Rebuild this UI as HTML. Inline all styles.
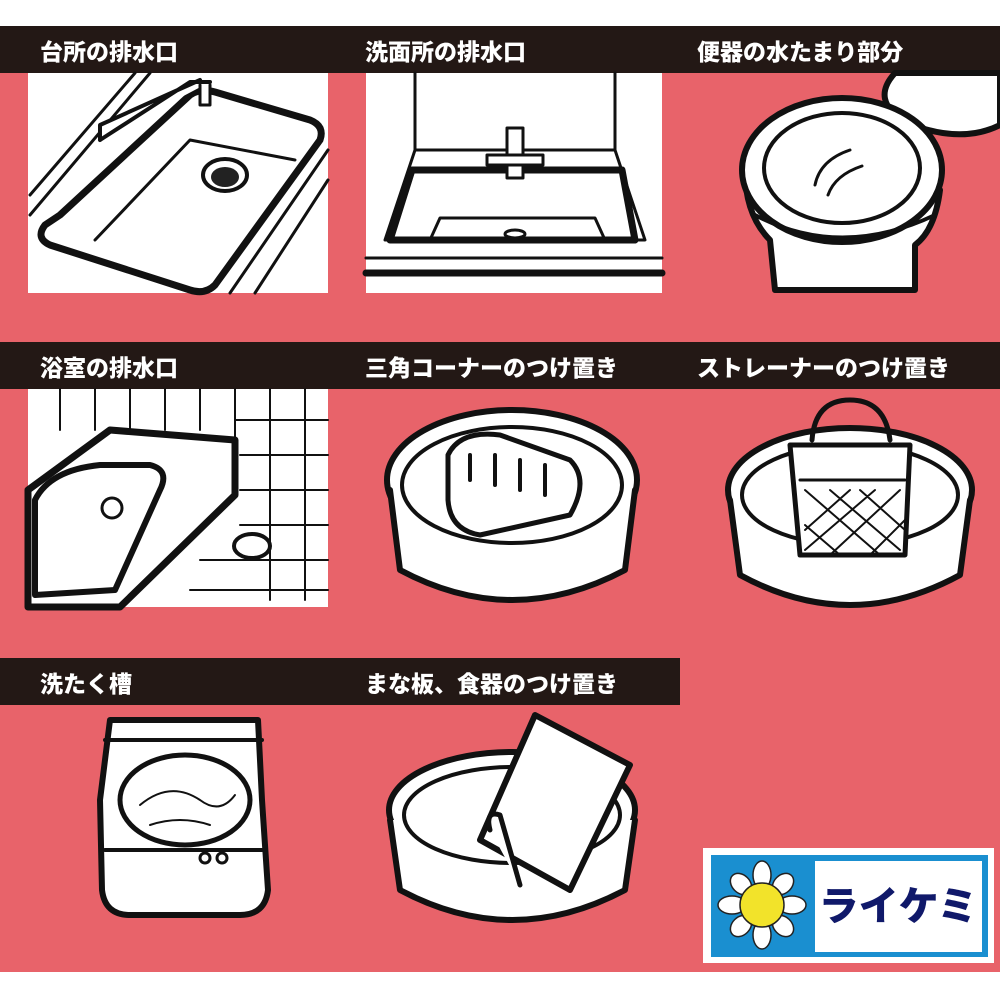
<!DOCTYPE html>
<html><head><meta charset="utf-8"><style>
html,body{margin:0;padding:0;width:1000px;height:1000px;background:#fff;overflow:hidden}
.t{font-family:"Liberation Sans","Noto Sans CJK JP",sans-serif;font-weight:900;fill:#fff;font-size:23px}
</style></head><body>
<svg width="1000" height="1000" viewBox="0 0 1000 1000" xmlns="http://www.w3.org/2000/svg">
<rect x="0" y="26" width="1000" height="946" fill="#e8636a"/>
<rect x="0" y="26" width="1000" height="47" fill="#231815"/>
<rect x="0" y="342" width="1000" height="47" fill="#231815"/>
<rect x="0" y="658" width="680" height="47" fill="#231815"/>
<text class="t" x="40" y="60">台所の排水口</text>
<text class="t" x="365" y="60">洗面所の排水口</text>
<text class="t" x="697" y="60">便器の水たまり部分</text>
<text class="t" x="40" y="376">浴室の排水口</text>
<text class="t" x="365" y="376">三角コーナーのつけ置き</text>
<text class="t" x="697" y="376">ストレーナーのつけ置き</text>
<text class="t" x="40" y="692">洗たく槽</text>
<text class="t" x="365" y="692">まな板、食器のつけ置き</text>

<g stroke="#111" fill="none" stroke-linejoin="round" stroke-linecap="round">
<!-- kitchen -->
<rect x="28" y="73" width="300" height="220" fill="#fff" stroke="none"/>
<path d="M30 195 L135 73 M30 215 L150 73" stroke-width="3"/>
<path d="M60 215 L190 95 Q200 88 215 92 L310 120 Q325 126 320 140 L215 285 Q205 295 190 290 L50 245 Q35 238 45 225 Z" stroke-width="7" fill="#fff"/>
<path d="M95 240 L190 140 L295 160" stroke-width="3"/>
<ellipse cx="225" cy="175" rx="22" ry="16" stroke-width="4"/>
<ellipse cx="225" cy="177" rx="14" ry="10" fill="#222" stroke="none"/>
<path d="M100 140 L190 82 L210 82 M100 140 L100 125 L200 80" stroke-width="4" fill="#fff"/>
<path d="M200 85 L200 105 L210 105 L210 85" stroke-width="3" fill="#fff"/>
<path d="M230 293 L328 150 M255 293 L328 180" stroke-width="3"/>
<!-- washbasin -->
<rect x="366" y="73" width="296" height="220" fill="#fff" stroke="none"/>
<path d="M415 73 L415 150 M615 73 L615 150 M415 150 L615 150 L645 240 L385 240 Z" stroke-width="3"/>
<path d="M412 170 L622 170 L635 240 L390 240 Z" stroke-width="7"/>
<path d="M430 240 L440 218 L595 218 L605 240" stroke-width="3"/>
<ellipse cx="515" cy="234" rx="10" ry="4" stroke-width="3"/>
<rect x="507" y="128" width="16" height="50" stroke-width="3" fill="#fff"/>
<rect x="487" y="155" width="56" height="10" stroke-width="3" fill="#fff"/>
<path d="M366 258 L662 258" stroke-width="3"/>
<path d="M366 273 L662 273" stroke-width="7"/>
<!-- toilet -->
<path d="M895 73 Q870 100 905 122 Q960 145 1000 125 L1000 73 Z" fill="#fff" stroke-width="6"/>
<path d="M745 170 Q745 215 770 240 L775 290 L915 290 L915 245 Q935 230 940 190 Z" fill="#fff" stroke-width="6"/>
<ellipse cx="842" cy="170" rx="100" ry="72" stroke-width="6" fill="#fff"/>
<ellipse cx="842" cy="168" rx="78" ry="55" stroke-width="4" fill="#fff"/>
<path d="M815 185 Q820 160 850 150 M828 195 Q835 175 862 166" stroke-width="3"/>
<path d="M755 215 Q840 260 935 215" stroke-width="4"/>
<!-- bath -->
<rect x="28" y="389" width="300" height="218" fill="#fff" stroke="none"/>
<path d="M60 389 L60 430 M95 389 L95 430 M130 389 L130 430 M165 389 L165 430 M200 389 L200 430 M235 389 L235 440 M270 389 L270 600 M305 389 L305 600 M235 420 L328 420 M240 455 L328 455 M240 490 L328 490 M240 525 L328 525 M200 560 L328 560 M190 590 L328 590" stroke-width="2"/>
<path d="M28 490 L110 430 L235 440 L235 495 L120 607 L28 607 Z" stroke-width="7" fill="#fff"/>
<path d="M35 500 Q50 470 100 465 L150 465 Q170 470 160 490 L115 590 L35 595 Z" stroke-width="6" fill="#fff"/>
<circle cx="112" cy="508" r="10" stroke-width="3"/>
<ellipse cx="252" cy="546" rx="18" ry="12" stroke-width="4"/>
<!-- triangle corner -->
<ellipse cx="512" cy="480" rx="125" ry="70" fill="#fff" stroke-width="6"/>
<path d="M390 490 L400 570 Q512 630 625 570 L635 490" fill="#fff" stroke-width="6"/>
<ellipse cx="512" cy="485" rx="110" ry="58" stroke-width="4" fill="#fff"/>
<path d="M448 455 Q460 430 500 435 L570 460 Q590 480 570 515 L480 535 Q450 530 448 500 Z" stroke-width="5" fill="#fff"/>
<path d="M470 455 L470 480 M495 455 L495 485 M520 460 L520 490 M545 465 L545 495" stroke-width="4"/>
<!-- strainer -->
<ellipse cx="850" cy="490" rx="122" ry="62" fill="#fff" stroke-width="6"/>
<path d="M730 500 L740 575 Q850 635 960 575 L970 500" fill="#fff" stroke-width="6"/>
<ellipse cx="850" cy="495" rx="108" ry="50" stroke-width="4" fill="#fff"/>
<path d="M812 440 Q815 400 850 400 Q885 400 890 440" stroke-width="5"/>
<path d="M790 445 L910 445 L905 555 L800 555 Z" fill="#fff" stroke-width="5"/>
<path d="M800 480 L905 480" stroke-width="3"/>
<path d="M805 490 L880 555 M830 490 L900 550 M860 490 L905 530 M805 525 L840 555 M900 490 L830 555 M875 490 L805 550 M850 490 L805 530 M905 520 L870 555" stroke-width="2"/>
<!-- washing machine -->
<path d="M110 720 L258 720 L262 800 L268 890 Q265 915 240 915 L130 915 Q105 915 102 890 L100 800 Z" fill="#fff" stroke-width="6"/>
<path d="M105 740 L262 740" stroke-width="4"/>
<ellipse cx="185" cy="800" rx="65" ry="45" stroke-width="5" fill="#fff"/>
<path d="M140 805 Q170 780 200 800 Q220 815 235 795 M150 825 Q180 815 210 825" stroke-width="2"/>
<path d="M105 850 L262 850" stroke-width="4"/>
<circle cx="205" cy="858" r="5" stroke-width="3"/><circle cx="222" cy="858" r="5" stroke-width="3"/>
<!-- cutting board -->
<ellipse cx="512" cy="810" rx="123" ry="58" fill="#fff" stroke-width="6"/>
<path d="M390 820 L400 890 Q512 950 625 890 L635 820" fill="#fff" stroke-width="6"/>
<ellipse cx="512" cy="815" rx="108" ry="48" stroke-width="4" fill="#fff"/>
<path d="M535 715 L630 765 L570 890 L480 840 Z" fill="#fff" stroke-width="6"/>
<path d="M490 830 Q485 810 500 815 L520 885" stroke-width="5" fill="#fff"/>
</g>
<!-- logo -->
<rect x="703" y="848" width="291" height="115" fill="#fff"/>
<rect x="711" y="855" width="277" height="102" fill="#1a8fd0"/>
<rect x="815" y="861" width="167" height="91" fill="#fff"/>
<g fill="#fff" stroke="#222" stroke-width="1.5">
<ellipse cx="762" cy="875" rx="9" ry="14"/><ellipse cx="762" cy="935" rx="9" ry="14"/>
<ellipse cx="732" cy="905" rx="14" ry="9"/><ellipse cx="792" cy="905" rx="14" ry="9"/>
<ellipse cx="741" cy="884" rx="12" ry="9" transform="rotate(45 741 884)"/><ellipse cx="783" cy="884" rx="12" ry="9" transform="rotate(-45 783 884)"/>
<ellipse cx="741" cy="926" rx="12" ry="9" transform="rotate(-45 741 926)"/><ellipse cx="783" cy="926" rx="12" ry="9" transform="rotate(45 783 926)"/>
</g>
<circle cx="762" cy="905" r="22" fill="#f2e32a" stroke="#222" stroke-width="1.5"/>
<text x="898" y="920" text-anchor="middle" font-family="'Liberation Sans','Noto Sans CJK JP',sans-serif" font-weight="900" font-size="40" fill="#10196a">ライケミ</text>
</svg>
</body></html>
